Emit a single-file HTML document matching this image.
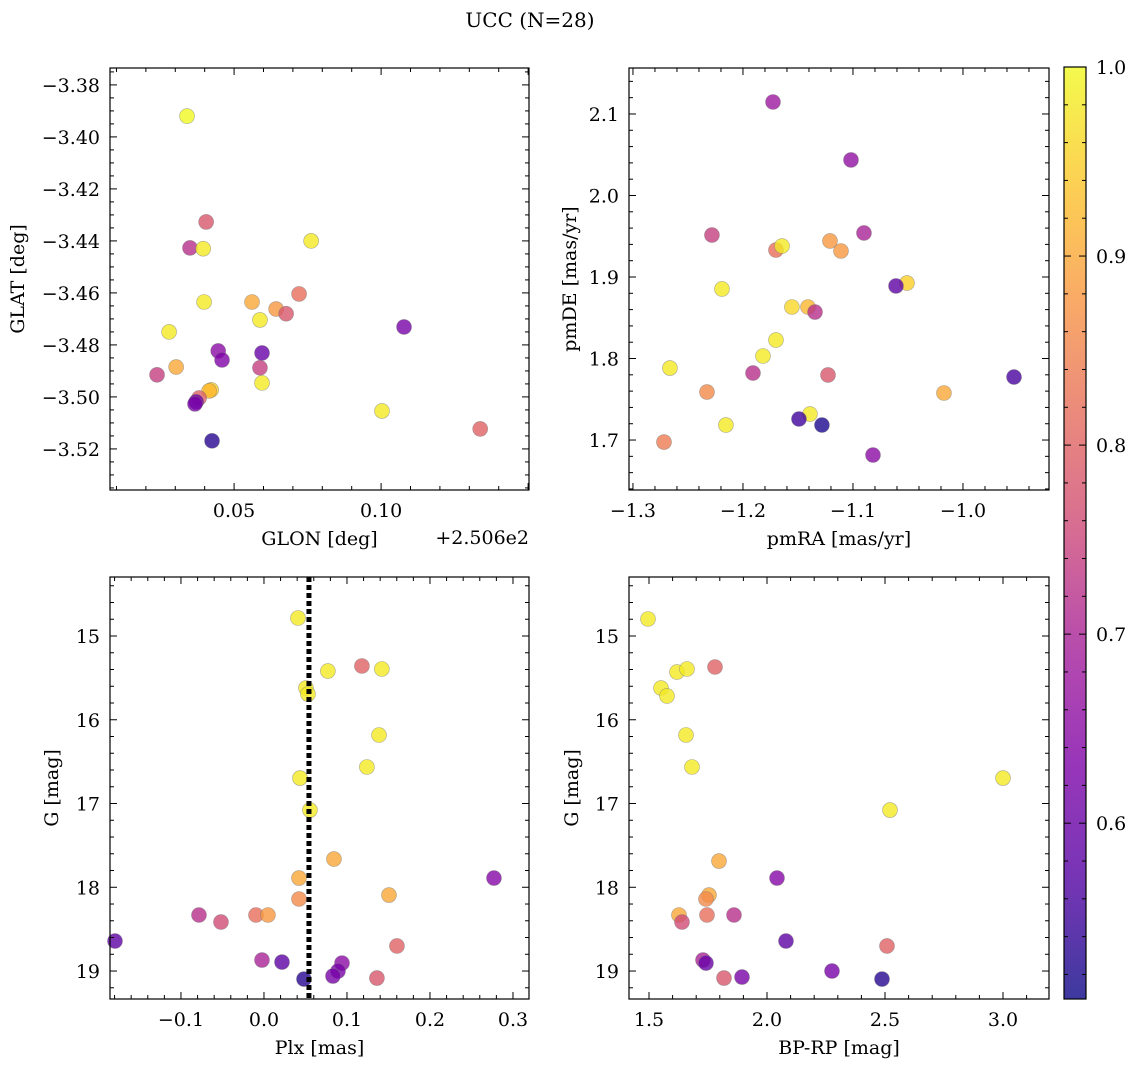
<!DOCTYPE html>
<html><head><meta charset="utf-8"><style>
body{margin:0;background:#fff;}
svg{display:block;font-family:"DejaVu Serif","Liberation Serif",serif;}
</style></head><body>
<svg id="fig" width="1136" height="1067" viewBox="0 0 1136 1067" xmlns="http://www.w3.org/2000/svg">
<text x="530" y="27" font-size="20" text-anchor="middle">UCC (N=28)</text>
</svg>
<script>
// Panel 1: GLON (offset from 250.6) vs GLAT
const p1X=[0.034,0.0405,0.035,0.0395,0.0762,0.0398,0.0561,0.0721,0.0643,0.0677,0.0588,0.0279,0.1078,0.0446,0.0459,0.0595,0.0303,0.0238,0.0588,0.0595,0.0422,0.0415,0.0381,0.0371,0.0367,0.1003,0.1337,0.0425];
const p1Y=[-3.392,-3.4327,-3.4427,-3.443,-3.44,-3.4635,-3.4635,-3.4604,-3.4662,-3.468,-3.4704,-3.475,-3.4731,-3.4823,-3.4858,-3.4831,-3.4885,-3.4915,-3.4888,-3.4946,-3.4973,-3.4977,-3.5004,-3.5019,-3.5027,-3.5054,-3.5123,-3.5169];
const p1C=[1.0,.78,.72,.98,.98,.98,.9,.82,.88,.78,.98,.98,.62,.65,.63,.6,.9,.74,.74,.98,.95,.92,.8,.6,.62,.98,.8,.53];
// Panel 2: pmRA vs pmDE
const p2X=[-1.1727,-1.1018,-1.2282,-1.09,-1.1209,-1.17,-1.1645,-1.1109,-1.2191,-1.0509,-1.0609,-1.1555,-1.1409,-1.1345,-1.17,-1.1818,-1.2664,-1.1909,-0.9536,-1.1227,-1.2327,-1.0173,-1.1391,-1.2155,-1.1491,-1.1282,-1.2718,-1.0818];
const p2Y=[2.1147,2.0436,1.9515,1.954,1.9442,1.9331,1.938,1.9319,1.8853,1.8926,1.889,1.8632,1.8632,1.857,1.8227,1.8031,1.7883,1.7822,1.7773,1.7798,1.7589,1.7577,1.7319,1.7184,1.7258,1.7184,1.6975,1.6816];
const p2C=[.68,.66,.74,.7,.88,.82,.98,.88,.98,.95,.58,.96,.92,.72,.98,.98,.98,.72,.56,.78,.86,.9,.98,.98,.55,.52,.84,.65];
// Panel 3: Plx vs G
const p3X=[0.041,0.118,0.142,0.077,0.0506,0.053,0.1386,0.124,0.0434,0.0554,0.0843,0.0422,0.2771,0.1506,0.0422,-0.0783,-0.0096,0.0048,-0.0518,0.1602,-0.1795,-0.0024,0.0217,0.094,0.0892,0.0831,0.1361,0.0482];
const p3Y=[14.785,15.358,15.394,15.418,15.621,15.693,16.182,16.564,16.696,17.078,17.663,17.89,17.89,18.093,18.14,18.331,18.331,18.331,18.415,18.701,18.642,18.869,18.893,18.905,19.0,19.06,19.084,19.096];
const p3C=[.98,.8,.98,.98,.98,.98,.98,.98,.98,.98,.9,.9,.64,.9,.86,.72,.82,.88,.76,.8,.58,.7,.58,.65,.62,.62,.78,.53];
const plxLine=[0.0542];
// Panel 4: BP-RP vs G
const p4X=[1.4958,1.6186,1.661,1.7797,1.5508,1.5763,1.6568,1.6822,3.0,2.5212,1.7966,2.0424,1.7542,1.7415,1.6271,1.6398,1.7458,1.8602,2.0805,2.5085,1.7288,1.7415,1.8178,1.8941,2.2754,2.4873];
const p4Y=[14.797,15.43,15.394,15.37,15.621,15.716,16.182,16.564,16.696,17.078,17.687,17.89,18.093,18.14,18.331,18.415,18.331,18.331,18.642,18.701,18.869,18.905,19.084,19.072,19.0,19.096];
const p4C=[.98,.98,.98,.8,.98,.98,.98,.98,.98,.98,.9,.64,.9,.86,.9,.76,.82,.72,.58,.8,.7,.6,.78,.62,.62,.53];
const cbTicks=[0.6,0.7,0.8,0.9,1.0];

const NS="http://www.w3.org/2000/svg";
const svg=document.getElementById('fig');
function mk(tag,attrs,parent){const e=document.createElementNS(NS,tag);for(const k in attrs)e.setAttribute(k,attrs[k]);(parent||svg).appendChild(e);return e;}
const VMIN=0.507,VMAX=1.0;
const stops=[[13,8,135],[84,2,163],[126,3,168],[163,29,154],[204,71,120],[229,107,93],[248,149,64],[253,196,39],[240,249,33]];
function plasma(v){let t=(v-VMIN)/(VMAX-VMIN);t=Math.max(0,Math.min(1,t));const f=t*(stops.length-1);const i=Math.min(stops.length-2,Math.floor(f));const r=f-i;const a=stops[i],b=stops[i+1];return `rgb(${Math.round(a[0]+(b[0]-a[0])*r)},${Math.round(a[1]+(b[1]-a[1])*r)},${Math.round(a[2]+(b[2]-a[2])*r)})`;}
function fmt(v,d){let s=v.toFixed(d);if(parseFloat(s)<0)s='\u2212'+s.slice(1);if(parseFloat(s)===0)s=(0).toFixed(d);return s;}
const FS=19;

function panel(cfg){
  const {name,L,R,T,B,x0,x1,y0,y1,inv,xMaj,xMin,yMaj,yMin,xd,yd,xs,ys,cs,xlabel,ylabel,ylx}=cfg;
  const g=mk('g',{});
  
  
  const sx=v=>L+(v-x0)/(x1-x0)*(R-L);
  const sy=inv?(v=>T+(v-y0)/(y1-y0)*(B-T)):(v=>B-(v-y0)/(y1-y0)*(B-T));
  const pg=mk('g',{},g);
  
  
  for(let i=0;i<xs.length;i++){
    const c=mk('circle',{cx:sx(xs[i]),cy:sy(ys[i]),r:7.5,fill:plasma(cs[i]),'fill-opacity':0.8,stroke:'#777','stroke-width':0.6,'stroke-opacity':0.6},pg);
    
    
  }
  if(cfg.after)cfg.after(g,sx,sy);
  const tk=mk('g',{stroke:'#000','stroke-width':1},g);
  
  
  const lo=Math.min(x0,x1),hi=Math.max(x0,x1);
  for(let k=Math.ceil(lo/xMin-1e-6);k*xMin<=hi+1e-9;k++){const v=k*xMin;const X=sx(v);const maj=Math.abs(v/xMaj-Math.round(v/xMaj))<1e-6;const len=maj?7:4;
    mk('line',{x1:X,y1:B,x2:X,y2:B-len},tk);mk('line',{x1:X,y1:T,x2:X,y2:T+len},tk);
    if(maj&&X>=L-0.5&&X<=R+0.5&&!(cfg.skipX&&cfg.skipX(v))){const t=mk('text',{x:X,y:B+27,'font-size':FS,'text-anchor':'middle',stroke:'none'},g);t.textContent=fmt(v,xd);}}
  const ylo=Math.min(y0,y1),yhi=Math.max(y0,y1);
  for(let k=Math.ceil(ylo/yMin-1e-6);k*yMin<=yhi+1e-9;k++){const v=k*yMin;const Y=sy(v);const maj=Math.abs(v/yMaj-Math.round(v/yMaj))<1e-6;const len=maj?7:4;
    mk('line',{x1:L,y1:Y,x2:L+len,y2:Y},tk);mk('line',{x1:R,y1:Y,x2:R-len,y2:Y},tk);
    if(maj){const t=mk('text',{x:L-10,y:Y+7,'font-size':FS,'text-anchor':'end',stroke:'none'},g);t.textContent=fmt(v,yd);}}
  const fr=mk('rect',{x:L,y:T,width:R-L,height:B-T,fill:'none',stroke:'#000','stroke-width':1.2},g);
  
  const xl=mk('text',{x:(L+R)/2,y:B+55,'font-size':FS,'text-anchor':'middle'},g);xl.textContent=xlabel;
  
  const yl=mk('text',{x:ylx,y:(T+B)/2,'font-size':FS,'text-anchor':'middle',transform:`rotate(-90 ${ylx} ${(T+B)/2})`},g);yl.textContent=ylabel;
  
  return g;
}

panel({name:'glon-glat-panel',L:110,R:529,T:68,B:490,x0:0.0078,x1:0.1503,y0:-3.5358,y1:-3.3735,inv:false,xMaj:0.05,xMin:0.01,yMaj:0.02,yMin:0.005,xd:2,yd:2,xs:p1X,ys:p1Y,cs:p1C,xlabel:'GLON [deg]',ylabel:'GLAT [deg]',ylx:24,skipX:v=>v>0.14});
const off=mk('text',{x:529,y:544,'font-size':FS,'text-anchor':'end'});off.textContent='+2.506e2';


panel({name:'pm-panel',L:629,R:1049,T:68,B:490,x0:-1.3036,x1:-0.9218,y0:1.6387,y1:2.1564,inv:false,xMaj:0.1,xMin:0.02,yMaj:0.1,yMin:0.02,xd:1,yd:1,xs:p2X,ys:p2Y,cs:p2C,xlabel:'pmRA [mas/yr]',ylabel:'pmDE [mas/yr]',ylx:576});

panel({name:'plx-g-panel',L:110,R:529,T:577,B:999,x0:-0.1855,x1:0.3193,y0:14.2955,y1:19.334,inv:true,xMaj:0.1,xMin:0.02,yMaj:1,yMin:0.2,xd:1,yd:0,xs:p3X,ys:p3Y,cs:p3C,xlabel:'Plx [mas]',ylabel:'G [mag]',ylx:58,
  after:(g,sx,sy)=>{const l=mk('line',{x1:sx(plxLine[0]),y1:577,x2:sx(plxLine[0]),y2:999,stroke:'#000','stroke-width':5,'stroke-dasharray':'5,3'},g);}});

panel({name:'color-g-panel',L:629,R:1049,T:577,B:999,x0:1.4153,x1:3.1949,y0:14.2955,y1:19.334,inv:true,xMaj:0.5,xMin:0.1,yMaj:1,yMin:0.2,xd:1,yd:0,xs:p4X,ys:p4Y,cs:p4C,xlabel:'BP-RP [mag]',ylabel:'G [mag]',ylx:578});

const cb=mk('g',{});


const defs=mk('defs',{},cb);
const grad=mk('linearGradient',{id:'pl',x1:0,y1:1,x2:0,y2:0},defs);
for(let i=0;i<=20;i++){mk('stop',{offset:i/20,'stop-color':plasma(VMIN+(VMAX-VMIN)*i/20),'stop-opacity':0.8},grad);}
const CT=67,CB=999,CL=1064,CR=1086;
mk('rect',{x:CL,y:CT,width:CR-CL,height:CB-CT,fill:'url(#pl)',stroke:'#000','stroke-width':1.2},cb);
const cy=v=>CB-(v-VMIN)/(VMAX-VMIN)*(CB-CT);
for(let k=26;k<=50;k++){const v=k*0.02;const Y=cy(v);if(Y<CT-0.5)continue;const maj=k%5===0;
  mk('line',{x1:CR,y1:Y,x2:CR-(maj?7:4),y2:Y,stroke:'#000'},cb);mk('line',{x1:CL,y1:Y,x2:CL+(maj?7:4),y2:Y,stroke:'#000'},cb);}
cbTicks.forEach(v=>{const t=mk('text',{x:CR+10,y:cy(v)+7,'font-size':FS},cb);t.textContent=v.toFixed(1);
  });
</script>
</body></html>
